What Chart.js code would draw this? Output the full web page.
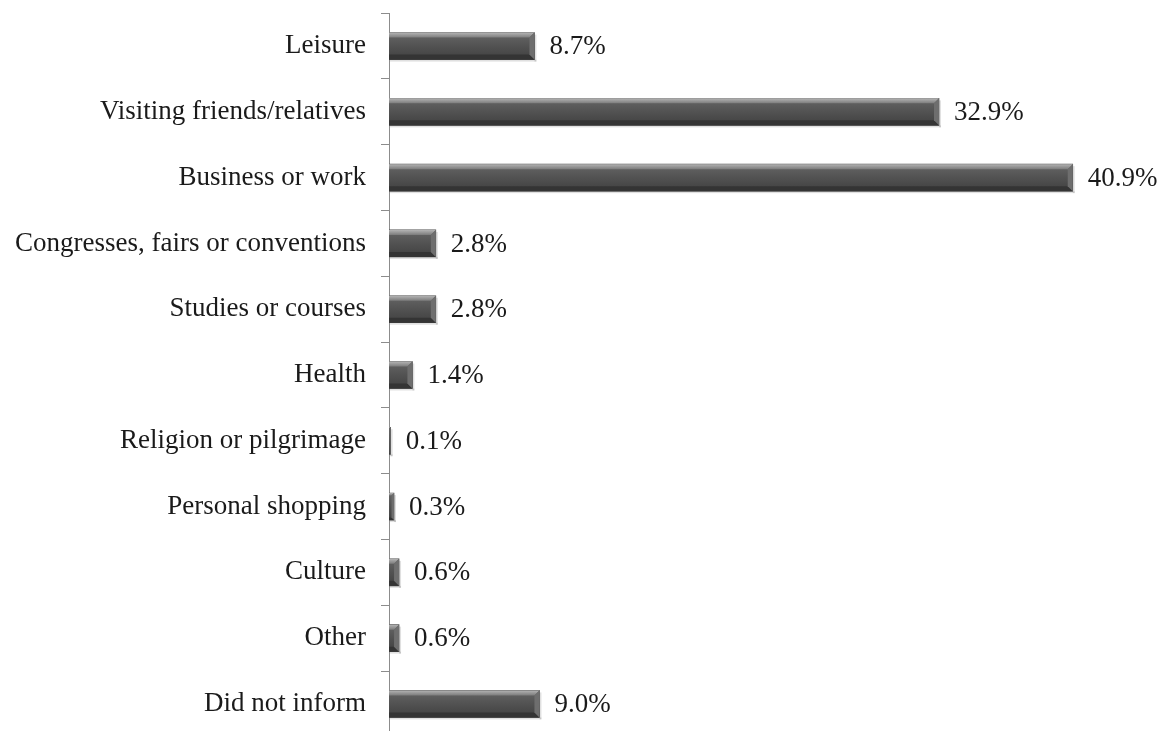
<!DOCTYPE html>
<html>
<head>
<meta charset="utf-8">
<script src="https://cdn.jsdelivr.net/npm/chart.js@4/dist/chart.umd.min.js"></script>
<style>
  html, body { margin: 0; padding: 0; background: #fff; overflow: hidden; }
  #wrap { width: 1163px; height: 786px; margin-top: -18px; }
</style>
</head>
<body>
<div id="wrap"><canvas id="chart"></canvas></div>
<script>
const categories = [
  'Leisure',
  'Visiting friends/relatives',
  'Business or work',
  'Congresses, fairs or conventions',
  'Studies or courses',
  'Health',
  'Religion or pilgrimage',
  'Personal shopping',
  'Culture',
  'Other',
  'Did not inform'
];
const shares = [8.7, 32.9, 40.9, 2.8, 2.8, 1.4, 0.1, 0.3, 0.6, 0.6, 9.0];

const FONT = '"Liberation Serif", "Times New Roman", serif';

// Bevelled look: light top edge, dark bottom edge, lit end cap, soft shadow
const bevelBars = {
  id: 'bevelBars',
  afterDatasetsDraw(chart) {
    const ctx = chart.ctx;
    const meta = chart.getDatasetMeta(0);
    meta.data.forEach((bar) => {
      const p = bar.getProps(['x', 'y', 'base', 'height'], true);
      const x0 = p.base, x1 = p.x;
      const top = p.y - p.height / 2, bot = p.y + p.height / 2;
      const w = x1 - x0;
      if (w <= 0) return;
      const b = Math.min(5, w / 2);
      ctx.save();
      // shadow
      ctx.fillStyle = 'rgba(0,0,0,0.12)';
      ctx.fillRect(x0 + 1, bot, w + 1, 2);
      ctx.fillRect(x1, top + 2, 2, p.height);
      // body
      const g = ctx.createLinearGradient(0, top, 0, bot);
      g.addColorStop(0, '#666666');
      g.addColorStop(0.5, '#525252');
      g.addColorStop(1, '#404040');
      ctx.fillStyle = g;
      ctx.fillRect(x0, top, w, p.height);
      // top bevel
      const gt = ctx.createLinearGradient(0, top, 0, top + b);
      gt.addColorStop(0, '#b4b4b4');
      gt.addColorStop(1, '#7c7c7c');
      ctx.fillStyle = gt;
      ctx.beginPath();
      ctx.moveTo(x0, top);
      ctx.lineTo(x1, top);
      ctx.lineTo(x1 - b, top + b);
      ctx.lineTo(x0, top + b);
      ctx.closePath();
      ctx.fill();
      // bottom bevel
      ctx.fillStyle = '#343434';
      ctx.beginPath();
      ctx.moveTo(x0, bot);
      ctx.lineTo(x1, bot);
      ctx.lineTo(x1 - b, bot - b);
      ctx.lineTo(x0, bot - b);
      ctx.closePath();
      ctx.fill();
      // end cap
      ctx.fillStyle = '#6e6e6e';
      ctx.beginPath();
      ctx.moveTo(x1, top);
      ctx.lineTo(x1, bot);
      ctx.lineTo(x1 - b, bot - b);
      ctx.lineTo(x1 - b, top + b);
      ctx.closePath();
      ctx.fill();
      ctx.restore();
    });
  }
};

// Percentage labels to the right of each bar
const valueLabels = {
  id: 'valueLabels',
  afterDatasetsDraw(chart) {
    const ctx = chart.ctx;
    const meta = chart.getDatasetMeta(0);
    ctx.save();
    ctx.font = '27px ' + FONT;
    ctx.fillStyle = '#1a1a1a';
    ctx.textAlign = 'left';
    ctx.textBaseline = 'middle';
    meta.data.forEach((bar, i) => {
      ctx.fillText(shares[i].toFixed(1) + '%', bar.x + 15, bar.y + 1);
    });
    ctx.restore();
  }
};

new Chart(document.getElementById('chart'), {
  type: 'bar',
  data: {
    labels: categories,
    datasets: [{
      data: shares,
      backgroundColor: '#505050',
      barThickness: 27
    }]
  },
  options: {
    indexAxis: 'y',
    responsive: true,
    maintainAspectRatio: false,
    animation: false,
    layout: { padding: 0 },
    plugins: {
      legend: { display: false },
      tooltip: { enabled: false }
    },
    scales: {
      x: {
        display: false,
        min: 0,
        max: 46.3
      },
      y: {
        afterFit(scale) { scale.width = 389; },
        border: { display: true, color: '#8c8c8c', width: 1 },
        grid: {
          offset: true,
          drawOnChartArea: false,
          drawTicks: true,
          tickLength: 8,
          color: '#8c8c8c'
        },
        ticks: {
          color: '#1a1a1a',
          padding: 15,
          font: { family: FONT, size: 27 }
        }
      }
    }
  },
  plugins: [bevelBars, valueLabels]
});
</script>
</body>
</html>
